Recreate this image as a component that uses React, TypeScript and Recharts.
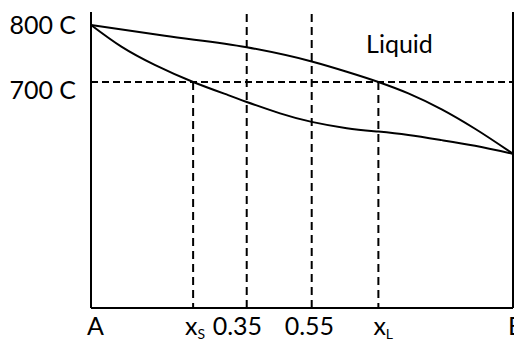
import React from "react";
import {
  ComposedChart,
  Line,
  XAxis,
  YAxis,
  ReferenceLine,
  ReferenceDot,
} from "recharts";

// composition (A = 0, B = 1) vs temperature
const liquidus = [
  { x: 0, t: 800 },
  { x: 0.175, t: 781 },
  { x: 0.369, t: 761 },
  { x: 0.523, t: 736 },
  { x: 0.606, t: 718 },
  { x: 0.681, t: 700 },
  { x: 0.752, t: 680 },
  { x: 0.831, t: 652 },
  { x: 0.91, t: 618 },
  { x: 1, t: 574 },
];

const solidus = [
  { x: 0, t: 800 },
  { x: 0.072, t: 762 },
  { x: 0.151, t: 730 },
  { x: 0.242, t: 700 },
  { x: 0.325, t: 677 },
  { x: 0.369, t: 665 },
  { x: 0.448, t: 645 },
  { x: 0.523, t: 630 },
  { x: 0.606, t: 619 },
  { x: 0.681, t: 613 },
  { x: 0.752, t: 607 },
  { x: 0.831, t: 598 },
  { x: 0.91, t: 588 },
  { x: 1, t: 574 },
];

const xS = 0.242;
const x035 = 0.369;
const x055 = 0.523;
const xL = 0.681;

const xTicks = [0, xS, x035, x055, xL, 1];
const xLabels = ["A", "xS", "0.35", "0.55", "xL", "B"];
const xLabelShift = [-4, -8, -34, -27, -5, -5];

const yTicks = [800, 700];
const yLabels = ["800 C", "700 C"];
const yLabelDrop = [9, 17];

const tMin = 303.5;
const tMax = 822.8;
const tLine = 700;

const FONT = "Lato, sans-serif";
const dash = "7 4";

function XTick(props: any) {
  const { x, index } = props;
  const label = xLabels[index];
  const left = x + xLabelShift[index];
  const base = 335;
  if (label === "xS" || label === "xL") {
    return (
      <text x={left} y={base} fontFamily={FONT} fontSize={25} fill="#000">
        x
        <tspan fontSize={14} dy={4}>
          {label.slice(1)}
        </tspan>
      </text>
    );
  }
  return (
    <text x={left} y={base} fontFamily={FONT} fontSize={25} fill="#000">
      {label}
    </text>
  );
}

function YTick(props: any) {
  const { x, y, index } = props;
  return (
    <text
      x={x - 15}
      y={y + yLabelDrop[index]}
      textAnchor="end"
      fontFamily={FONT}
      fontSize={25}
      fill="#000"
    >
      {yLabels[index]}
    </text>
  );
}

export default function App() {
  return (
    <div style={{ position: "absolute", left: 0, top: 0, background: "#fff" }}>
      <ComposedChart
        width={514}
        height={339}
        margin={{ top: 12, right: 1, bottom: 0, left: 0 }}
      >
        <XAxis
          dataKey="x"
          type="number"
          domain={[0, 1]}
          ticks={xTicks}
          interval={0}
          height={31}
          tickLine={false}
          tickSize={0}
          axisLine={{ stroke: "#000", strokeWidth: 2 }}
          tick={<XTick />}
        />
        <YAxis
          type="number"
          domain={[tMin, tMax]}
          ticks={yTicks}
          allowDataOverflow
          width={91}
          tickLine={false}
          tickSize={0}
          tickMargin={0}
          axisLine={{ stroke: "#000", strokeWidth: 2 }}
          tick={<YTick />}
        />
        <ReferenceLine x={1} stroke="#000" strokeWidth={2} />
        <ReferenceLine y={tLine} stroke="#000" strokeWidth={2} strokeDasharray={dash} />
        <ReferenceLine x={x035} stroke="#000" strokeWidth={2} strokeDasharray="8 5" />
        <ReferenceLine x={x055} stroke="#000" strokeWidth={2} strokeDasharray="8 5" />
        <ReferenceLine
          segment={[
            { x: xS, y: tLine },
            { x: xS, y: tMin },
          ]}
          stroke="#000"
          strokeWidth={2}
          strokeDasharray="8 5"
        />
        <ReferenceLine
          segment={[
            { x: xL, y: tLine },
            { x: xL, y: tMin },
          ]}
          stroke="#000"
          strokeWidth={2}
          strokeDasharray="8 5"
        />
        <Line
          data={liquidus}
          dataKey="t"
          type="monotone"
          stroke="#000"
          strokeWidth={2}
          dot={false}
          isAnimationActive={false}
        />
        <Line
          data={solidus}
          dataKey="t"
          type="natural"
          stroke="#000"
          strokeWidth={2}
          dot={false}
          isAnimationActive={false}
        />
        <ReferenceDot
          x={0.731}
          y={751}
          r={1}
          fill="none"
          stroke="none"
          label={({ viewBox }: any) => (
            <text
              x={viewBox.x + viewBox.width / 2}
              y={viewBox.y + viewBox.height / 2}
              textAnchor="middle"
              fontFamily={FONT}
              fontSize={25}
              fill="#000"
            >
              Liquid
            </text>
          )}
        />
      </ComposedChart>
    </div>
  );
}
